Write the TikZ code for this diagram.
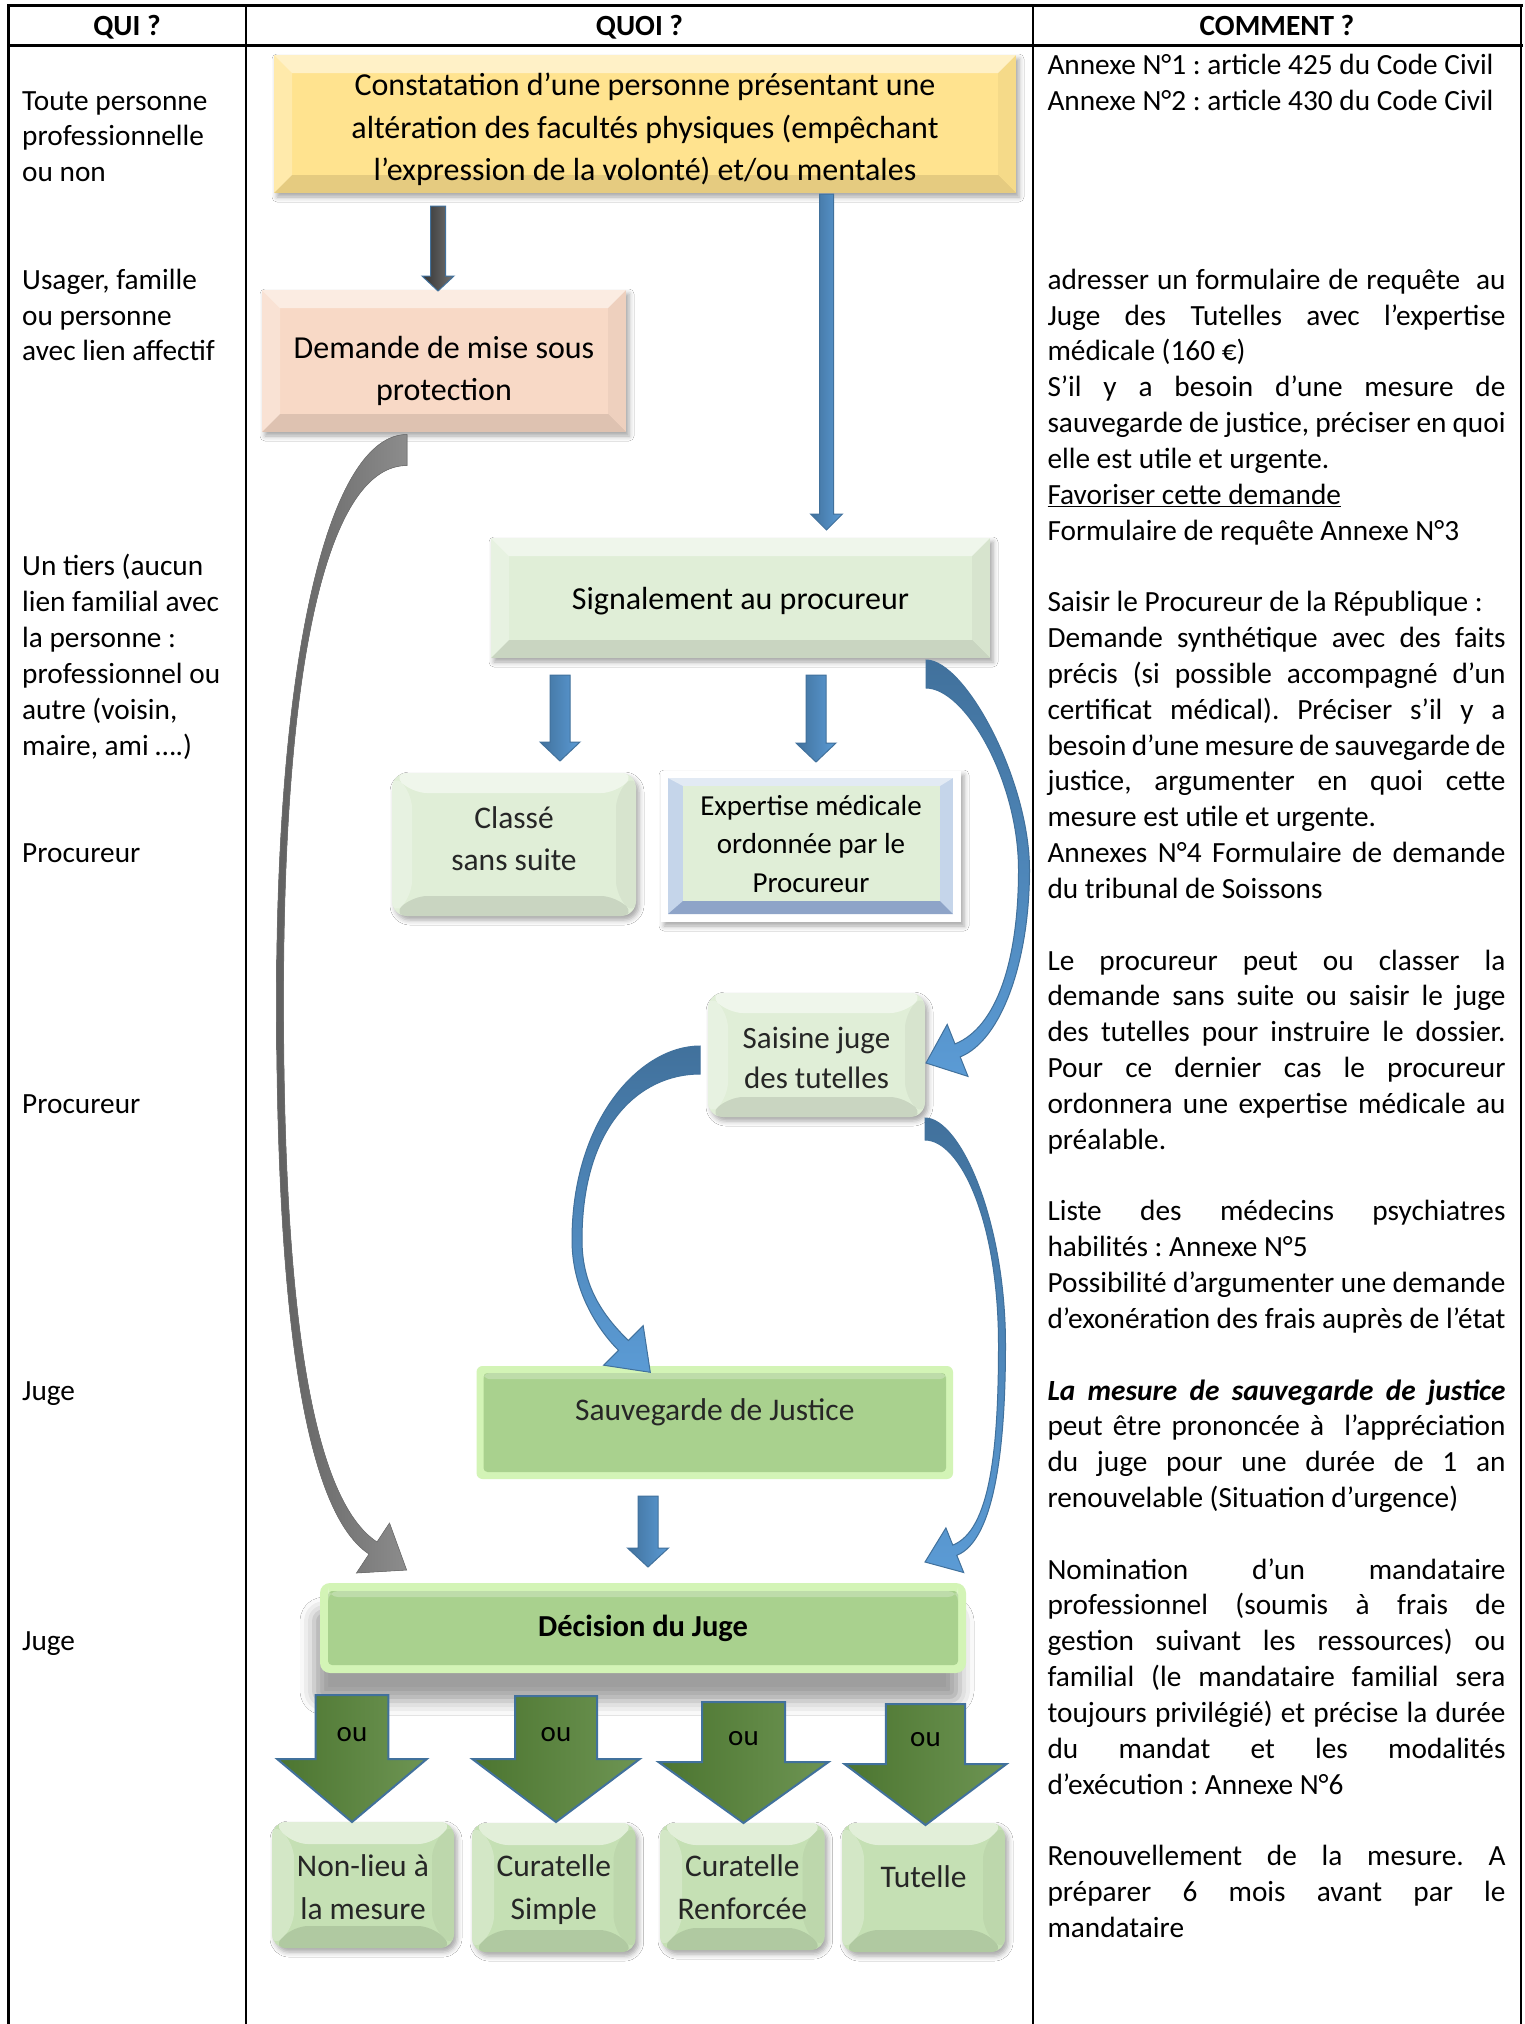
\documentclass[tikz,border=0pt]{standalone}
\usepackage{fontspec}
\setmainfont{Carlito}
\usetikzlibrary{shadows.blur}
\definecolor{yel}{HTML}{FFE38F}
\definecolor{peach}{HTML}{F8D9C6}
\definecolor{lgreen}{HTML}{E0EED7}
\definecolor{mgreen}{HTML}{C5E0B4}
\definecolor{sgreen}{HTML}{A9D18E}
\definecolor{glow}{HTML}{D3F4B6}
\definecolor{bluedk}{HTML}{41719C}
\definecolor{bluelt}{HTML}{5B9BD5}
\definecolor{arrgreen}{HTML}{548235}
\definecolor{framebl}{HTML}{C5D5EA}
\definecolor{framedk}{HTML}{8EA4C8}
\definecolor{txtgray}{HTML}{262626}
\newcommand\jl[1]{\hbox to\hsize{#1}}
\newcommand\lf[1]{\hbox{#1}}
\newcommand\emptyln{\hbox{}}
\newcommand\topst[1]{\rule{0pt}{#1pt}}
\newcommand\botst[1]{\rule[-#1pt]{0pt}{#1pt}}
\newcommand\varrow[7]{\draw[#7] ({#1-#4},#2) -- ({#1+#4},#2) -- ({#1+#4},{#3-#6}) -- ({#1+#5},{#3-#6}) -- (#1,#3) -- ({#1-#5},{#3-#6}) -- ({#1-#4},{#3-#6}) -- cycle;}
\hbadness=10000 \hfuzz=20pt
\frenchspacing
\tikzset{
 bevel/.style={path picture={
  \path (path picture bounding box.north west) coordinate (bvNW) (path picture bounding box.north east) coordinate (bvNE)
        (path picture bounding box.south west) coordinate (bvSW) (path picture bounding box.south east) coordinate (bvSE);
  \fill[white,opacity=.5] (bvNW) -- (bvNE) -- ([shift={(-#1,#1)}]bvNE) -- ([shift={(#1,#1)}]bvNW) -- cycle;
  \fill[white,opacity=.25] (bvNW) -- ([shift={(#1,#1)}]bvNW) -- ([shift={(#1,-#1)}]bvSW) -- (bvSW) -- cycle;
  \fill[black,opacity=.04] (bvNE) -- ([shift={(-#1,#1)}]bvNE) -- ([shift={(-#1,-#1)}]bvSE) -- (bvSE) -- cycle;
  \fill[black,opacity=.10] (bvSW) -- ([shift={(#1,-#1)}]bvSW) -- ([shift={(-#1,-#1)}]bvSE) -- (bvSE) -- cycle;
 }},
 glowbox/.style={path picture={
  \path (path picture bounding box.north west) coordinate (gNW) (path picture bounding box.south east) coordinate (gSE);
  \fill[sgreen,rounded corners=4pt] ([shift={(#1,#1)}]gNW) rectangle ([shift={(-#1,-#1)}]gSE);
  \fill[white,opacity=.25] ([shift={(#1,#1)}]gNW) rectangle ([shift={(-#1,#1+6)}]gSE |- gNW);
 }},
 shadowed/.style={blur shadow={shadow xshift=3pt,shadow yshift=-4pt,shadow blur radius=5pt,shadow opacity=35}},
 hdr/.style={font=\bfseries\fontsize{29.3}{35.83}\selectfont, anchor=base, inner sep=0pt},
 coltext/.style={font=\fontsize{29.3}{35.83}\selectfont, anchor=base west, inner sep=0pt},
 boxtxt/.style={inner sep=0pt, align=center},
 rbox/.style={boxtxt, rounded corners=15pt, shadowed, text=txtgray},
 bluearrow/.style={left color=bluedk, right color=bluelt, draw=bluedk, line width=1pt},
 bluecurve/.style={top color=bluedk, bottom color=bluelt, draw=bluedk, line width=1pt},
 greenarrow/.style={left color=arrgreen!90!black, right color=arrgreen!85!white, draw=bluedk, line width=2pt},
 ou/.style={font=\fontsize{29}{35}\selectfont, anchor=base, inner sep=0pt},
}
\begin{document}
\begin{tikzpicture}[x=1pt,y=-1pt]
\useasboundingbox (0,0) rectangle (1525,2024);
\fill[white] (0,0) rectangle (1525,2024);
% table rules
\draw[line width=3pt] (7,5) -- (1522.5,5);
\draw[line width=3pt] (7,45.5) -- (1522.5,45.5);
\draw[line width=2.6pt] (8.5,5) -- (8.5,2024);
\draw[line width=2.6pt] (246,5) -- (246,2024);
\draw[line width=2.6pt] (1033,5) -- (1033,2024);
\draw[line width=2.6pt] (1521,5) -- (1521,2024);
% headers
\node[hdr] (hqui) at (127,35.5) {QUI ?};
\node[hdr] (hquoi) at (639.5,35.5) {QUOI ?};
\node[hdr] (hcomment) at (1277,35.5) {COMMENT ?};
% QUI column
\node[coltext] (qui1) at (22,110.1) {\vtop{\lf{Toute personne}\lf{professionnelle}\lf{ou non}}};
\node[coltext] (qui2) at (22,289.3) {\vtop{\lf{Usager, famille}\lf{ou personne}\lf{avec lien affectif}}};
\node[coltext] (qui3) at (22,575.9) {\vtop{\lf{Un tiers (aucun}\lf{lien familial avec}\lf{la personne :}\lf{professionnel ou}\lf{autre (voisin,}\lf{maire, ami ….)}}};
\node[coltext] (qui4) at (22,862.6) {Procureur};
\node[coltext] (qui5) at (22,1113.4) {Procureur};
\node[coltext] (qui6) at (22,1400) {Juge};
\node[coltext] (qui7) at (22,1650.8) {Juge};
% COMMENT column
\node[coltext] (comment) at (1047.3,74.3) {\vtop{\hsize=458pt
\lf{Annexe N°1 : article 425 du Code Civil}
\lf{Annexe N°2 : article 430 du Code Civil}
\emptyln\emptyln\emptyln\emptyln
\jl{adresser un formulaire de requête\ \ au}
\jl{Juge des Tutelles avec l’expertise}
\lf{médicale (160 €)}
\jl{S’il y a besoin d’une mesure de}
\jl{sauvegarde de justice, préciser en quoi}
\lf{elle est utile et urgente.}
\lf{\underline{Favoriser cette demande}}
\lf{Formulaire de requête Annexe N°3}
\emptyln
\lf{Saisir le Procureur de la République :}
\jl{Demande synthétique avec des faits}
\jl{précis (si possible accompagné d’un}
\jl{certificat médical). Préciser s’il y a}
\jl{besoin d’une mesure de sauvegarde de}
\jl{justice, argumenter en quoi cette}
\lf{mesure est utile et urgente.}
\jl{Annexes N°4 Formulaire de demande}
\lf{du tribunal de Soissons}
\emptyln
\jl{Le procureur peut ou classer la}
\jl{demande sans suite ou saisir le juge}
\jl{des tutelles pour instruire le dossier.}
\jl{Pour ce dernier cas le procureur}
\jl{ordonnera une expertise médicale au}
\lf{préalable.}
\emptyln
\jl{Liste des médecins psychiatres}
\lf{habilités : Annexe N°5}
\jl{Possibilité d'argumenter une demande}
\lf{d’exonération des frais auprès de l’état}
\emptyln
\jl{\bfseries\itshape La mesure de sauvegarde de justice}
\jl{peut être prononcée à\ \ l’appréciation}
\jl{du juge pour une durée de 1 an}
\lf{renouvelable (Situation d’urgence)}
\emptyln
\jl{Nomination d’un mandataire}
\jl{professionnel (soumis à frais de}
\jl{gestion suivant les ressources) ou}
\jl{familial (le mandataire familial sera}
\jl{toujours privilégié) et précise la durée}
\jl{du mandat et les modalités}
\lf{d’exécution : Annexe N°6}
\emptyln
\jl{Renouvellement de la mesure. A}
\jl{préparer 6 mois avant par le}
\lf{mandataire}
}};
% QUOI column boxes
\node[boxtxt, bevel=18, shadowed, fill=yel, minimum width=742pt, minimum height=138pt,
      font=\fontsize{32}{42.5}\selectfont] (constat) at (645,124)
  {\topst{40.6}Constatation d’une personne présentant une\\altération des facultés physiques (empêchant\\l’expression de la volonté) et/ou mentales\botst{12}};
\node[boxtxt, bevel=18, shadowed, fill=peach, minimum width=364pt, minimum height=142pt,
      font=\fontsize{32}{41.5}\selectfont] (demande) at (444,361) {\topst{48.5}Demande de mise sous\\protection\botst{12}};
\node[boxtxt, bevel=18, shadowed, fill=lgreen, minimum width=499pt, minimum height=120pt,
      font=\fontsize{32}{40}\selectfont, text height=34pt, text depth=12pt] (signal) at (740.5,598) {Signalement au procureur};
\node[rbox, bevel=20, fill=lgreen, minimum width=244pt, minimum height=143pt,
      font=\fontsize{31.5}{42}\selectfont] (classe) at (514,844.5) {\topst{24.2}Classé\\sans suite\botst{14}};
\node[boxtxt, fill=white, shadowed, minimum width=300pt, minimum height=151pt,
      font=\fontsize{29}{38.5}\selectfont,
      path picture={
        \path (path picture bounding box.north west) coordinate (eNW) (path picture bounding box.south east) coordinate (eSE);
        \fill[framebl] ([shift={(7,7)}]eNW) rectangle ([shift={(-8,-8)}]eSE);
        \fill[framedk] ([shift={(7,-8)}]eSE -| eNW) -- ([shift={(-8,-8)}]eSE) -- ([shift={(-21,-21)}]eSE) -- ([shift={(22,-21)}]eSE -| eNW) -- cycle;
        \fill[white,opacity=.5] ([shift={(7,7)}]eNW) -- ([shift={(-8,7)}]eNW -| eSE) -- ([shift={(-21,15)}]eNW -| eSE) -- ([shift={(22,15)}]eNW) -- cycle;
        \fill[lgreen] ([shift={(22,15)}]eNW) rectangle ([shift={(-21,-21)}]eSE);
      }] (expert) at (811,846.5) {\topst{26.4}Expertise médicale\\ordonnée par le\\Procureur\botst{12}};
\node[rbox, bevel=20, fill=lgreen, minimum width=217pt, minimum height=124pt,
      font=\fontsize{31}{40.5}\selectfont] (saisine) at (816.5,1055) {\topst{39}Saisine juge\\des tutelles\botst{12}};
\node[boxtxt, fill=glow, rounded corners=6pt, text=txtgray, glowbox=7, minimum width=476.5pt, minimum height=113pt,
      font=\fontsize{31.5}{38}\selectfont, text height=21pt, text depth=24.5pt] (sauve) at (714.75,1422.5) {Sauvegarde de Justice};
\node[boxtxt, fill=glow, rounded corners=10pt, glowbox=8, minimum width=646pt, minimum height=90pt,
      blur shadow={shadow xshift=-6pt,shadow yshift=-28pt,shadow blur radius=14pt,shadow opacity=38},
      font=\bfseries\fontsize{30.5}{37}\selectfont] (decision) at (643,1628) {Décision du Juge};
% bottom boxes
\node[rbox, rounded corners=14pt, bevel=22, fill=mgreen, minimum width=182pt, minimum height=126pt,
      font=\fontsize{31.5}{43}\selectfont] (nonlieu) at (363,1885) {\topst{38}Non-lieu à\\la mesure\botst{12}};
\node[rbox, rounded corners=14pt, bevel=22, fill=mgreen, minimum width=163.6pt, minimum height=129pt,
      font=\fontsize{31.5}{43}\selectfont] (cursimple) at (553.8,1887.5) {\topst{33}Curatelle\\Simple\botst{12}};
\node[rbox, rounded corners=14pt, bevel=22, fill=mgreen, minimum width=164.6pt, minimum height=127pt,
      font=\fontsize{31.5}{43}\selectfont] (currenf) at (742.3,1886.5) {\topst{35}Curatelle\\Renforcée\botst{12}};
\node[rbox, rounded corners=14pt, bevel=22, fill=mgreen, minimum width=163pt, minimum height=129pt,
      font=\fontsize{31.5}{43}\selectfont, text height=21pt, text depth=20.5pt] (tutelle) at (923.5,1887.5) {Tutelle};
% straight arrows
\varrow{438}{206}{291}{7.5}{16}{15}{left color=black!80, right color=black!55, draw=bluedk, line width=1pt}
\varrow{826.5}{194}{530}{7}{16}{16}{bluearrow}
\varrow{560}{675}{761}{10}{20}{19}{bluearrow}
\varrow{816}{675}{762}{10}{20}{19}{bluearrow}
\varrow{648}{1496}{1567}{10}{20.5}{19}{bluearrow}
% green "ou" arrows
\varrow{352}{1695}{1822}{36.3}{74.8}{63}{greenarrow}
\varrow{556}{1696}{1822}{41}{83.7}{63}{greenarrow}
\varrow{743.5}{1702}{1823}{41.5}{85}{61}{greenarrow}
\varrow{925.5}{1704}{1825}{39.6}{81}{61}{greenarrow}
\node[ou] (ou1) at (352,1741.7) {ou};
\node[ou] (ou2) at (556,1741.7) {ou};
\node[ou] (ou3) at (743.5,1745) {ou};
\node[ou] (ou4) at (925.5,1746.7) {ou};
% gray curved arrow: demande -> decision
\fill[left color=black!62, right color=black!45, draw=black!55, line width=.6pt]
  (407,434.5) .. controls (330,434.5) and (276.5,650) .. (276.5,1000)
  .. controls (276.5,1300) and (302,1510) .. (369,1554)
  -- (356.5,1573) -- (406.6,1570) -- (389.5,1523) -- (377,1542)
  .. controls (310,1498) and (283.5,1300) .. (283.5,1000)
  .. controls (283.5,650) and (330,465.5) .. (407,465.5) -- cycle;
% blue curved arrow: signalement -> saisine
\draw[bluecurve]
  (926,660) .. controls (965,660) and (1029.5,780) .. (1029.5,870)
  .. controls (1029.5,960) and (1002,1040) .. (960.2,1056.9)
  -- (968,1076.4) -- (926,1063) -- (947.2,1024.4) -- (955,1043.9)
  .. controls (997,1027) and (1018.5,960) .. (1018.5,870)
  .. controls (1018.5,780) and (965,688) .. (926,688) -- cycle;
% blue curved arrow: saisine -> sauvegarde
\draw[bluecurve]
  (700,1046) .. controls (640,1046) and (572,1120) .. (572,1240)
  .. controls (572,1290) and (597.3,1329.1) .. (618.5,1350.3)
  -- (603.6,1365.2) -- (650.3,1372.3) -- (643.2,1325.6) -- (628.3,1340.5)
  .. controls (607.1,1319.3) and (582,1290) .. (582,1240)
  .. controls (582,1125) and (640,1074) .. (700,1074) -- cycle;
% blue curved arrow: saisine -> decision
\draw[bluecurve]
  (925,1118) .. controls (960,1118) and (1005.5,1220) .. (1005.5,1345)
  .. controls (1005.5,1450) and (994,1540.5) .. (956.8,1555.3)
  -- (963.7,1572.5) -- (925,1562) -- (945.9,1527.9) -- (952.8,1545.1)
  .. controls (990,1530.3) and (998.5,1450) .. (998.5,1345)
  .. controls (998.5,1220) and (960,1140) .. (925,1140) -- cycle;
\end{tikzpicture}
\end{document}
